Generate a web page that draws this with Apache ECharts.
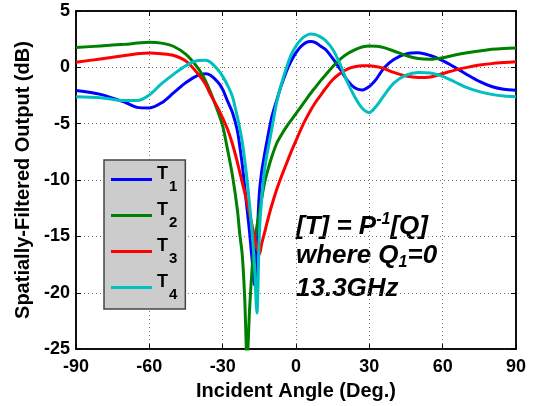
<!DOCTYPE html>
<html><head><meta charset="utf-8">
<script src="https://cdn.jsdelivr.net/npm/echarts@6/dist/echarts.min.js"></script>
<style>html,body{margin:0;padding:0;background:#fff}#c{width:536px;height:406px}</style>
</head><body><div id="c"></div>
<script>
const angles = [-90,-80,-70,-65,-60,-55,-50,-45,-40,-37,-35,-32,-30,-28,-26,-24,-23,-22,-21,-20,-19,-18,-17,-16,-15,-14,-13,-12,-10,-8,-6,-4,-2,0,2,4,6,8,10,12,15,18,21,24,27,30,33,36,40,45,50,55,60,65,70,75,80,85,90];
const t1 = [-2.05,-2.4,-3.1,-3.55,-3.6,-3.15,-2.25,-1.35,-0.7,-0.57,
  -0.7,-1.3,-1.95,-3.0,-4.0,-5.6,-7.0,-8.6,-10.6,-12.6,
  -14.6,-17.0,-19.3,-15.5,-11.2,-9.2,-7.9,-6.7,-4.5,-3.0,
  -1.6,-0.4,0.55,1.3,1.85,2.2,2.3,2.2,1.9,1.6,
  0.8,-0.15,-1.15,-1.8,-2.0,-1.7,-1.0,-0.05,0.7,1.2,
  1.3,1.05,0.6,0.0,-0.65,-1.25,-1.7,-1.95,-2.03];
const t2 = [1.76,1.9,2.05,2.15,2.23,2.15,1.85,1.15,-0.1,-1.2,
  -2.2,-3.9,-5.2,-7.3,-9.6,-12.6,-14.8,-16.6,-20.4,-26,
  -21.5,-18,-15.5,-14.1,-12.9,-11.6,-10.4,-9.5,-8.0,-6.8,
  -6.0,-5.3,-4.7,-4.1,-3.5,-2.9,-2.3,-1.75,-1.2,-0.7,
  0.05,0.7,1.2,1.55,1.8,1.9,1.88,1.75,1.45,1.05,
  0.78,0.72,0.85,1.1,1.3,1.45,1.6,1.68,1.72];
const t3 = [0.45,0.75,1.05,1.2,1.27,1.2,1.05,0.55,-0.6,-1.5,
  -2.4,-3.6,-4.5,-5.5,-6.8,-8.4,-9.3,-10.2,-11.1,-12.0,
  -13.0,-14.0,-15.0,-16.0,-16.6,-15.6,-14.8,-13.9,-12.3,-10.9,
  -9.7,-8.6,-7.5,-6.5,-5.5,-4.6,-3.8,-3.1,-2.5,-1.9,
  -1.1,-0.55,-0.15,0.05,0.15,0.15,0.05,-0.1,-0.45,-0.77,
  -0.9,-0.85,-0.55,-0.25,0.0,0.2,0.33,0.42,0.49];
const t4 = [-2.6,-2.7,-2.95,-2.95,-2.45,-1.45,-0.6,0.15,0.6,0.62,
  0.45,-0.2,-0.8,-1.6,-2.6,-4.4,-5.4,-6.6,-8.2,-10.0,
  -12.2,-14.5,-17.5,-21.8,-14.8,-11.5,-9.3,-7.9,-5.6,-3.2,
  -1.5,-0.1,1.1,1.9,2.45,2.8,2.95,2.9,2.7,2.4,
  1.6,0.3,-1.3,-2.6,-3.6,-4.0,-3.4,-2.5,-1.4,-0.7,
  -0.45,-0.5,-0.8,-1.3,-1.8,-2.15,-2.4,-2.55,-2.6];
const seriesNames = ['T1','T2','T3','T4'];
const seriesColors = ['#0000ff','#008000','#ff0000','#00bfbf'];
const seriesValues = [t1,t2,t3,t4];
const xTicks = {min:-90,max:90,step:30};
const yTicks = {min:-25,max:5,step:5};

const FONT = '"Liberation Sans", Arial, sans-serif';
const chart = echarts.init(document.getElementById('c'), null, {renderer:'canvas'});
const axisCommon = {
  axisLine:{show:true,onZero:false,lineStyle:{color:'#000',width:1.5}},
  axisTick:{show:true,inside:true,length:5,lineStyle:{color:'#000',width:1}},
};
const option = {
  backgroundColor:'#fff',
  animation:false,
  grid:{left:76,right:20,top:11,bottom:53,show:true,borderColor:'#000',borderWidth:1.5,backgroundColor:'#fff'},
  legend:{
    orient:'vertical',left:104,top:160,
    backgroundColor:'#cccccc',borderColor:'#444',borderWidth:1.5,borderRadius:0,
    padding:[5,8,7,7],itemGap:7,itemWidth:41,itemHeight:3,icon:'rect',
    data:seriesNames,
    formatter:n=>'{t|T}{s|'+n.slice(1)+'}',
    textStyle:{fontFamily:FONT,fontWeight:'bold',color:'#000',
      rich:{t:{fontSize:18,fontWeight:'bold',fontFamily:FONT,lineHeight:18,padding:[0,0,11,0],color:'#000'},
            s:{fontSize:15,fontWeight:'bold',fontFamily:FONT,lineHeight:15,padding:[14,0,0,1],color:'#000'}}}
  },
  xAxis:[{
    type:'value',min:xTicks.min,max:xTicks.max,interval:xTicks.step,position:'bottom',
    name:'Incident Angle (Deg.)',nameLocation:'middle',nameGap:29,
    nameTextStyle:{fontFamily:FONT,fontWeight:'bold',fontSize:20,color:'#000'},
    axisLabel:{fontFamily:FONT,fontWeight:'bold',fontSize:18,color:'#000',margin:9},
    splitLine:{show:true,lineStyle:{type:[1,3],color:'#777',width:1}},
    ...axisCommon
  },{
    type:'value',min:xTicks.min,max:xTicks.max,interval:xTicks.step,position:'top',
    axisLabel:{show:false},splitLine:{show:false},...axisCommon
  }],
  yAxis:[{
    type:'value',min:yTicks.min,max:yTicks.max,interval:yTicks.step,position:'left',
    name:'Spatially-Filtered Output (dB)',nameLocation:'middle',nameGap:40,
    nameTextStyle:{fontFamily:FONT,fontWeight:'bold',fontSize:20,color:'#000'},
    axisLabel:{fontFamily:FONT,fontWeight:'bold',fontSize:18,color:'#000',margin:6},
    splitLine:{show:true,lineStyle:{type:[1,3],color:'#777',width:1}},
    ...axisCommon
  },{
    type:'value',min:yTicks.min,max:yTicks.max,interval:yTicks.step,position:'right',
    axisLabel:{show:false},splitLine:{show:false},...axisCommon
  }],
  series:seriesNames.map((n,i)=>({
    name:n,type:'line',xAxisIndex:0,yAxisIndex:0,
    data:angles.map((a,k)=>[a,seriesValues[i][k]]),
    symbol:'none',smooth:0.3,clip:true,
    lineStyle:{color:seriesColors[i],width:3},
    itemStyle:{color:seriesColors[i]}
  })),
  graphic:[
    {type:'text',left:296,top:212,style:{text:'{m|[T] = P}{p|-1}{m|[Q]}',
      rich:{m:{fontSize:26,lineHeight:28,fontWeight:'bold',fontStyle:'italic',fontFamily:FONT,fill:'#000',verticalAlign:'bottom'},
            p:{fontSize:16,lineHeight:16,fontWeight:'bold',fontStyle:'italic',fontFamily:FONT,fill:'#000',verticalAlign:'top'}}}},
    {type:'text',left:296,top:241,style:{text:'{m|where Q}{b|1}{m|=0}',
      rich:{m:{fontSize:26,lineHeight:28,fontWeight:'bold',fontStyle:'italic',fontFamily:FONT,fill:'#000',verticalAlign:'top'},
            b:{fontSize:16,lineHeight:16,fontWeight:'bold',fontStyle:'italic',fontFamily:FONT,fill:'#000',verticalAlign:'bottom',padding:[14,0,0,0]}}}},
    {type:'text',left:296,top:276,style:{text:'13.3GHz',fontSize:26,fontWeight:'bold',fontStyle:'italic',fontFamily:FONT,fill:'#000'}}
  ]
};
chart.setOption(option);
</script></body></html>
